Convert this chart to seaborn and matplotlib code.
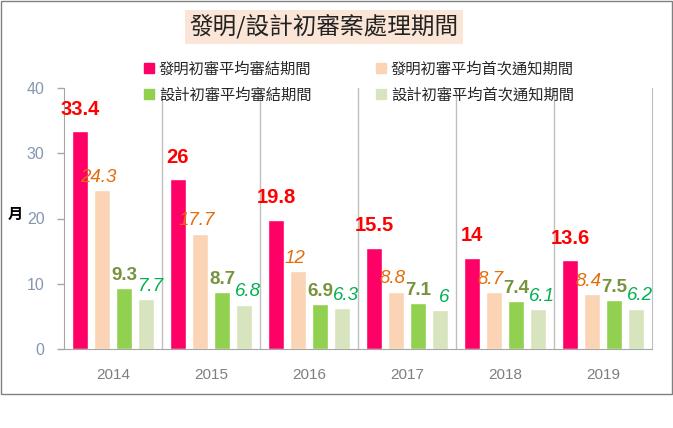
import numpy as np
import pandas as pd
import matplotlib
matplotlib.use('Agg')
import matplotlib.pyplot as plt
from matplotlib.patches import Rectangle, Patch
import seaborn as sns

years = ['2014', '2015', '2016', '2017', '2018', '2019']
series = ['發明初審平均審結期間', '發明初審平均首次通知期間',
          '設計初審平均審結期間', '設計初審平均首次通知期間']
inv_final = [33.4, 26, 19.8, 15.5, 14, 13.6]
inv_first = [24.3, 17.7, 12, 8.8, 8.7, 8.4]
des_final = [9.3, 8.7, 6.9, 7.1, 7.4, 7.5]
des_first = [7.7, 6.8, 6.3, 6, 6.1, 6.2]

colors = ['#FF0066', '#FAD4B4', '#92D050', '#D7E4BD']
label_colors = ['#FF0000', '#E46C0A', '#77933C', '#00B050']

df = pd.DataFrame({
    'year': years * 4,
    'months': inv_final + inv_first + des_final + des_first,
    'series': np.repeat(series, len(years)),
})

sns.set_style('white')
plt.rcParams['font.family'] = ['Liberation Sans', 'Noto Sans CJK TC']

fig = plt.figure(figsize=(6.73, 4.28), dpi=100)
ax = fig.add_axes([64/673, 1 - 349/428, 588/673, 261/428])

sns.barplot(data=df, x='year', y='months', hue='series', palette=colors,
            width=0.9, gap=0.27, saturation=1, legend=False, ax=ax)

# data labels (small sideways nudge so neighbours don't collide)
styles = [dict(fontsize=14.5, fontweight='bold', fontstyle='normal', pad=9, dx=0),
          dict(fontsize=13.5, fontweight='normal', fontstyle='italic', pad=3, dx=-2.5),
          dict(fontsize=13.5, fontweight='bold', fontstyle='normal', pad=3, dx=0),
          dict(fontsize=13.5, fontweight='normal', fontstyle='italic', pad=3, dx=3)]
for cont, st, c in zip(ax.containers, styles, label_colors):
    texts = ax.bar_label(cont, fmt='{:g}', padding=st['pad'], color=c,
                         fontsize=st['fontsize'], fontweight=st['fontweight'],
                         fontstyle=st['fontstyle'])
    for t in texts:
        x0, y0 = t.xyann
        t.xyann = (x0 + st['dx'], y0)

ax.set_xlim(-0.5, 5.5)
ax.set_ylim(0, 40)
ax.set_yticks([0, 10, 20, 30, 40])
ax.set_xlabel('')
ax.set_ylabel('月', rotation=0, fontsize=11, fontweight='bold', color='black')
ax.yaxis.set_label_coords(-0.083, 0.487)

# vertical separators between years
ax.set_xticks(np.arange(0.5, 5, 1), minor=True)
ax.grid(which='minor', axis='x', color='#BFBFBF', lw=1)
ax.tick_params(axis='x', which='both', length=0, pad=14, labelsize=11, labelcolor='#7F7F7F')
ax.tick_params(axis='y', which='major', direction='out', length=5, width=1, color='#A6A6A6',
               left=True, pad=9, labelsize=11.5, labelcolor='#8497B0')

for side in ['left', 'bottom']:
    ax.spines[side].set_color('#A6A6A6')
ax.spines['right'].set_color('#BFBFBF')
ax.spines['top'].set_visible(False)

# title in a shaded box
fig.text(324/673, 1 - 27/428, '發明/設計初審案處理期間', ha='center', va='center',
         fontsize=17, color='#222222', family=['Noto Sans CJK TC'],
         bbox=dict(boxstyle='square,pad=0.2', fc='#FBE5D6', ec='none'))

handles = [Patch(color=colors[i], label=series[i]) for i in [0, 2, 1, 3]]
fig.legend(handles=handles, loc='upper left', bbox_to_anchor=(130/673, 1 - 48/428),
           ncol=2, frameon=False, fontsize=11, handlelength=0.7, handleheight=0.7,
           handletextpad=0.3, columnspacing=4.2, labelspacing=0.75)

fig.patches.append(Rectangle((1/673, 1 - 394/428), 671/673, 393/428,
                             transform=fig.transFigure, fill=False,
                             ec='#808080', lw=1))

fig.savefig('out.png', dpi=100)
